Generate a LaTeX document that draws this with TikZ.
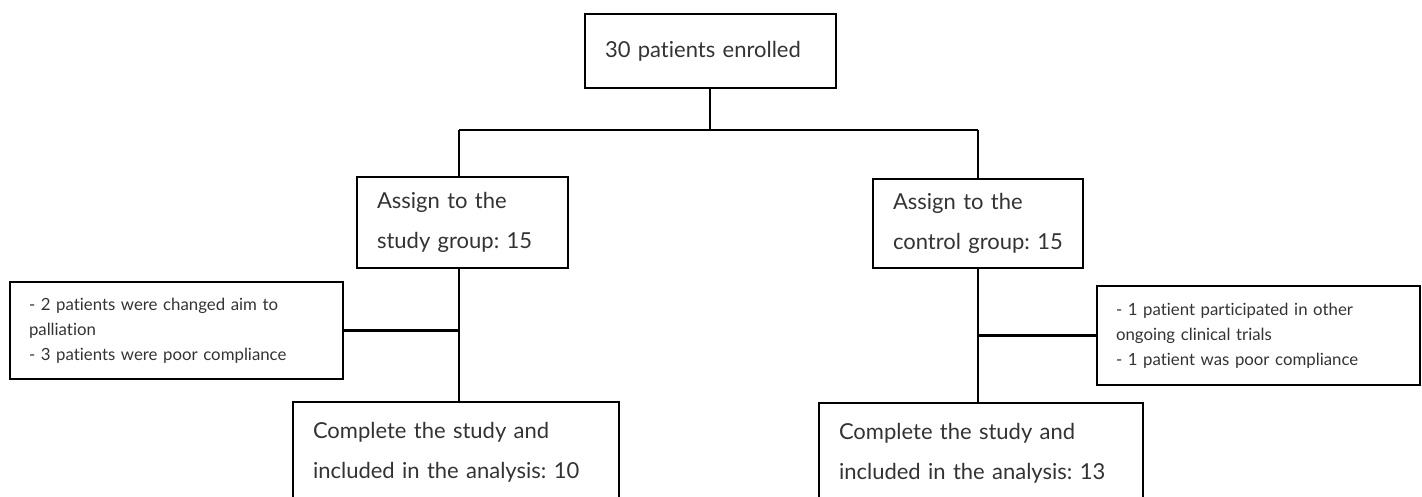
\documentclass[tikz,border=0pt]{standalone}
\usepackage{fontspec}
\setmainfont{Lato}[Ligatures=NoCommon]
\usetikzlibrary{positioning}
\frenchspacing

\begin{document}
\begin{tikzpicture}[x=1pt, y=-1pt, line width=2.4pt,
    box/.style = {draw, anchor=north west, align=left, outer sep=0pt, inner xsep=20pt, inner ysep=0pt, text=black!80, font=\fontsize{22}{40}\selectfont},
    note/.style = {draw, anchor=north west, align=left, outer sep=0pt, inner xsep=19pt, inner ysep=0pt, text=black!80, font=\fontsize{16.8}{25}\selectfont}]
    \clip (0,0) rectangle (1422,497);
    \useasboundingbox (0,0) rectangle (1422,497);

    \node[box, text width=211pt, minimum height=74pt] (enrol) at (585,14) {30 patients enrolled};
    \node[box, text width=171pt, minimum height=91pt] (study) at (357,177) {Assign to the\\study group: 15};
    \node[box, text width=170pt, minimum height=89pt] (control) at (873,179) {Assign to the\\control group: 15};

    \node[note, text width=295pt, minimum height=97pt] (exstudy) at (10,282) {- 2 patients were changed aim to\\palliation\\- 3 patients were poor compliance};
    \node[note, text width=285pt, minimum height=99pt] (excontrol) at (1097,286) {- 1 patient participated in other\\ongoing clinical trials\\- 1 patient was poor compliance};

    \node[box, text width=286pt, minimum height=101pt] (donestudy) at (293,402) {Complete the study and\\included in the analysis: 10};
    \node[box, text width=284pt, minimum height=101pt] (donecontrol) at (819,403) {Complete the study and\\included in the analysis: 13};

    \coordinate (split) at (710,130);
    \coordinate (splitL) at (459,130);
    \coordinate (splitR) at (978,130);

    \draw (enrol.south -| split) -- (split);
    \draw (splitL) -- (splitR);
    \draw (splitL) -- (splitL |- study.north);
    \draw (splitR) -- (splitR |- control.north);

    \draw (splitL |- study.south) -- (splitL |- donestudy.north);
    \draw (splitR |- control.south) -- (splitR |- donecontrol.north);
    % exclusions
    \draw (exstudy.east) -- (exstudy.east -| splitL);
    \draw (excontrol.west) -- (excontrol.west -| splitR);
\end{tikzpicture}
\end{document}
